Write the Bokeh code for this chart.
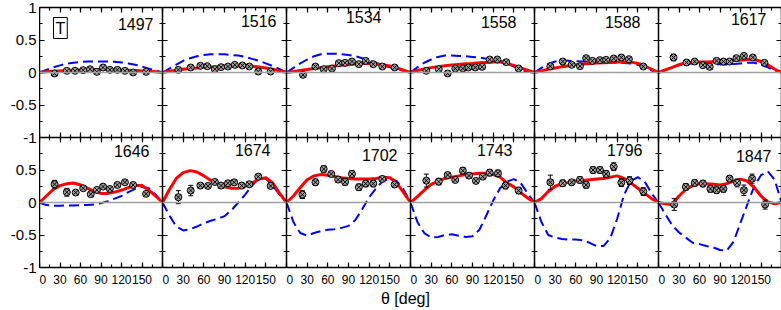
from bokeh.plotting import figure
from bokeh.layouts import gridplot, column, row
from bokeh.models import LinearAxis, FixedTicker, Span, Label, Range1d, ColumnDataSource, Div
from bokeh.embed import file_html
from bokeh.resources import INLINE

FONT = "Liberation Sans"

energies = [1497, 1516, 1534, 1558, 1588, 1617, 1646, 1674, 1702, 1743, 1796, 1847]

# model curves sampled every 10 deg
curve_theta = [0, 10, 20, 30, 40, 50, 60, 70, 80, 90, 100, 110, 120, 130, 140, 150, 160, 170, 180]

# ---- measured points (theta, T, error) ----
th_1497 = [22, 40, 52, 64, 74, 84, 93, 103, 114, 125, 137, 156]
T_1497 = [-0.015, 0.026, 0.026, 0.036, 0.05, 0.01, 0.077, 0.041, 0.041, 0.026, 0.0, 0.01]
dT_1497 = [0.015] * 12

th_1516 = [23, 41, 55, 65, 76, 85, 95, 105, 116, 126, 139, 157]
T_1516 = [0.041, 0.077, 0.103, 0.097, 0.051, 0.082, 0.092, 0.118, 0.108, 0.092, 0.015, 0.015]
dT_1516 = [0.015] * 12

th_1534 = [24, 42, 54, 66, 76, 85, 95, 105, 115, 126, 139, 157]
T_1534 = [-0.036, 0.092, 0.051, 0.062, 0.144, 0.149, 0.169, 0.128, 0.179, 0.128, 0.092, 0.077]
dT_1534 = [0.015] * 12

th_1558 = [23, 41, 54, 65, 76, 84, 94, 104, 115, 126, 139, 157]
T_1558 = [0.026, 0.051, -0.015, 0.062, 0.062, 0.077, 0.077, 0.087, 0.2, 0.2, 0.159, 0.062]
dT_1558 = [0.015] * 12

th_1588 = [23, 41, 54, 66, 75, 84, 95, 104, 115, 126, 137, 158]
T_1588 = [0.097, 0.169, 0.118, 0.097, 0.221, 0.179, 0.19, 0.195, 0.215, 0.231, 0.205, 0.092]
dT_1588 = [0.015, 0.035, 0.02, 0.02, 0.015, 0.015, 0.015, 0.015, 0.015, 0.015, 0.015, 0.015]

th_1617 = [22, 41, 53, 65, 75, 85, 95, 104, 114, 125, 138, 155]
T_1617 = [0.231, 0.154, 0.169, 0.113, 0.087, 0.179, 0.169, 0.169, 0.221, 0.256, 0.231, 0.149]
dT_1617 = [0.05, 0.04, 0.02, 0.02, 0.02, 0.02, 0.02, 0.02, 0.02, 0.02, 0.02, 0.02]

th_1646 = [22, 40, 53, 64, 75, 84, 93, 103, 114, 125, 137, 156]
T_1646 = [0.281, 0.158, 0.153, 0.219, 0.128, 0.194, 0.245, 0.209, 0.27, 0.311, 0.27, 0.133]
dT_1646 = [0.06, 0.06, 0.03, 0.03, 0.03, 0.03, 0.03, 0.03, 0.03, 0.03, 0.03, 0.03]

th_1674 = [23, 41, 55, 66, 76, 85, 95, 104, 115, 126, 139, 157]
T_1674 = [0.082, 0.184, 0.26, 0.255, 0.316, 0.26, 0.296, 0.311, 0.26, 0.281, 0.398, 0.255]
dT_1674 = [0.1, 0.08, 0.04, 0.04, 0.04, 0.04, 0.04, 0.04, 0.04, 0.04, 0.04, 0.04]

th_1702 = [23, 42, 54, 65, 75, 85, 95, 105, 115, 126, 139, 157]
T_1702 = [0.122, 0.311, 0.515, 0.439, 0.352, 0.316, 0.439, 0.235, 0.291, 0.291, 0.362, 0.276]
dT_1702 = [0.06, 0.05, 0.05, 0.04, 0.04, 0.05, 0.05, 0.05, 0.05, 0.05, 0.04, 0.04]

th_1743 = [23, 41, 54, 65, 76, 85, 95, 105, 115, 127, 138, 157]
T_1743 = [0.337, 0.321, 0.423, 0.347, 0.49, 0.413, 0.332, 0.398, 0.459, 0.449, 0.26, 0.184]
dT_1743 = [0.1, 0.05, 0.04, 0.04, 0.05, 0.04, 0.04, 0.04, 0.05, 0.05, 0.05, 0.05]

th_1796 = [23, 41, 54, 66, 75, 85, 95, 104, 115, 126, 138, 158]
T_1796 = [0.311, 0.296, 0.311, 0.347, 0.27, 0.5, 0.5, 0.439, 0.551, 0.306, 0.337, 0.168]
dT_1796 = [0.11, 0.05, 0.04, 0.05, 0.05, 0.05, 0.05, 0.05, 0.06, 0.06, 0.06, 0.06]

th_1847 = [23, 40, 53, 65, 76, 85, 95, 104, 115, 125, 137, 156]
T_1847 = [-0.031, 0.24, 0.301, 0.291, 0.209, 0.189, 0.209, 0.367, 0.301, 0.189, 0.367, -0.031]
dT_1847 = [0.09, 0.05, 0.05, 0.05, 0.05, 0.05, 0.05, 0.05, 0.06, 0.08, 0.07, 0.07]

# ---- model curves: red solid and blue dashed ----
red_1497 = [0, .01, .02, .025, .03, .035, .04, .04, .045, .045, .045, .045, .04, .035, .03, .025, .02, .01, 0]
blue_1497 = [0, .04, .08, .11, .135, .15, .16, .17, .17, .17, .17, .165, .155, .14, .12, .09, .06, .03, 0]

red_1516 = [0, .02, .035, .05, .06, .07, .08, .085, .09, .095, .1, .1, .1, .095, .085, .07, .05, .025, 0]
blue_1516 = [0, .06, .12, .18, .22, .25, .27, .28, .28, .28, .27, .26, .24, .21, .18, .14, .1, .05, 0]

red_1534 = [0, .015, .03, .045, .06, .075, .09, .1, .11, .12, .13, .14, .14, .13, .12, .1, .07, .035, 0]
blue_1534 = [0, .07, .14, .2, .25, .28, .29, .29, .28, .27, .25, .22, .18, .15, .11, .08, .05, .025, 0]

red_1558 = [0, .03, .055, .075, .09, .105, .115, .125, .135, .14, .15, .155, .16, .16, .14, .11, .07, .035, 0]
blue_1558 = [0, .08, .15, .2, .24, .26, .26, .255, .25, .24, .23, .21, .2, .18, .14, .09, .04, .01, 0]

red_1588 = [0, .025, .05, .07, .09, .105, .12, .13, .14, .145, .15, .155, .16, .16, .16, .14, .1, .05, 0]
blue_1588 = [0, .07, .13, .17, .185, .18, .175, .17, .165, .16, .16, .155, .15, .145, .14, .12, .08, .03, 0]

red_1617 = [0, .04, .08, .12, .15, .155, .16, .16, .165, .17, .175, .185, .19, .2, .2, .17, .12, .05, 0]
blue_1617 = [0, .04, .08, .11, .13, .14, .14, .135, .13, .125, .125, .13, .14, .15, .15, .12, .08, .03, 0]

red_1646 = [0, .1, .2, .26, .29, .3, .27, .22, .17, .14, .14, .16, .19, .23, .26, .26, .19, .1, 0]
blue_1646 = [0, -.04, -.05, -.05, -.045, -.045, -.04, -.04, -.03, -.01, .02, .06, .1, .16, .21, .24, .22, .12, 0]

red_1674 = [0, .2, .37, .46, .49, .47, .41, .34, .28, .24, .22, .22, .25, .3, .36, .38, .3, .14, 0]
blue_1674 = [0, -.2, -.37, -.43, -.41, -.37, -.32, -.28, -.25, -.21, -.12, 0, .12, .26, .37, .37, .26, .12, 0]

red_1702 = [0, .1, .23, .35, .41, .43, .42, .4, .38, .37, .36, .36, .36, .37, .39, .38, .3, .15, 0]
blue_1702 = [0, -.3, -.47, -.51, -.47, -.44, -.42, -.41, -.39, -.36, -.27, -.1, .08, .22, .33, .37, .33, .2, 0]

red_1743 = [0, .09, .19, .28, .33, .37, .39, .41, .43, .44, .45, .45, .43, .39, .3, .24, .15, .07, 0]
blue_1743 = [0, -.3, -.47, -.54, -.53, -.5, -.49, -.51, -.53, -.52, -.42, -.2, .03, .22, .32, .36, .3, .14, 0]

red_1796 = [0, .06, .17, .25, .29, .31, .33, .34, .35, .36, .37, .39, .41, .37, .3, .22, .14, .06, 0]
blue_1796 = [0, -.3, -.5, -.54, -.56, -.57, -.57, -.58, -.62, -.67, -.67, -.55, -.25, .12, .33, .39, .32, .14, 0]

red_1847 = [0, -.02, -.03, .1, .2, .26, .29, .29, .28, .27, .29, .33, .36, .33, .23, .1, .01, -.02, 0]
blue_1847 = [0, -.18, -.35, -.46, -.54, -.62, -.64, -.67, -.69, -.73, -.74, -.6, -.31, -.03, .25, .42, .48, .35, 0]

x_ticks = [0, 30, 60, 90, 120, 150, 180]
x_minor = [0, 15, 30, 45, 60, 75, 90, 105, 120, 135, 150, 165, 180]
y_ticks = [-1, -0.5, 0, 0.5, 1]
y_minor = [-1, -0.75, -0.5, -0.25, 0, 0.25, 0.5, 0.75, 1]
x_tick_labels = {0: "0", 30: "30", 60: "60", 90: "90", 120: "120", 150: "150", 180: ""}
# y tick labels of the two stacked rows, read on one shared label axis
# (upper row spans 1 .. -1, lower row spans -1 .. -3 on that axis)
row_label_ticks = [1, 0.5, 0, -0.5, -1, -1.5, -2, -2.5, -3]
row_label_texts = ["1", "0.5", "0", "-0.5", "-1", "0.5", "0", "-0.5", "-1"]
x_title = "θ [deg]"

panels = [
    (th_1497, T_1497, dT_1497, red_1497, blue_1497),
    (th_1516, T_1516, dT_1516, red_1516, blue_1516),
    (th_1534, T_1534, dT_1534, red_1534, blue_1534),
    (th_1558, T_1558, dT_1558, red_1558, blue_1558),
    (th_1588, T_1588, dT_1588, red_1588, blue_1588),
    (th_1617, T_1617, dT_1617, red_1617, blue_1617),
    (th_1646, T_1646, dT_1646, red_1646, blue_1646),
    (th_1674, T_1674, dT_1674, red_1674, blue_1674),
    (th_1702, T_1702, dT_1702, red_1702, blue_1702),
    (th_1743, T_1743, dT_1743, red_1743, blue_1743),
    (th_1796, T_1796, dT_1796, red_1796, blue_1796),
    (th_1847, T_1847, dT_1847, red_1847, blue_1847),
]

# layout (pixels)
frame_w = [123, 124, 124, 124, 124, 123]
frame_h = 130
top_pad = 7
bottom_pad = 40
title_dx = [9, 10, 29, 18, 18, 15, 13, 16, 13, 22, 16, 10]
title_dy = [10, 7, 3, 8, 8, 5, 7, 6, 11, 6, 6, 12]


def style_axis(ax, show_labels, is_x, overrides=None):
    ax.axis_line_color = "black"
    ax.axis_line_width = 1.5
    ax.major_tick_line_color = "black"
    ax.minor_tick_line_color = "black"
    ax.major_tick_line_width = 1.2
    ax.minor_tick_line_width = 1.2
    ax.major_tick_in = 5
    ax.major_tick_out = 0
    ax.minor_tick_in = 3
    ax.minor_tick_out = 0
    if is_x:
        ax.ticker = FixedTicker(ticks=x_ticks, minor_ticks=x_minor)
    else:
        ax.ticker = FixedTicker(ticks=y_ticks, minor_ticks=y_minor)
    if show_labels:
        ax.major_label_text_font = FONT
        ax.major_label_text_color = "black"
        ax.major_label_text_font_size = "12px"
        ax.major_label_standoff = 7
        ax.major_label_overrides = overrides
    else:
        ax.major_label_text_font_size = "0px"
        ax.major_label_standoff = 0


def spacer_axis(h, tick):
    # invisible axis that only reserves h pixels of border
    return LinearAxis(ticker=FixedTicker(ticks=[tick], minor_ticks=[]),
                      major_tick_out=h, major_tick_in=0, minor_tick_out=0, minor_tick_in=0,
                      major_tick_line_alpha=0, minor_tick_line_alpha=0, axis_line_alpha=0,
                      major_label_text_font_size="0px", major_label_standoff=0)


figs = []
for i, (th, T, dT, red, blue) in enumerate(panels):
    r, col = divmod(i, 6)
    p = figure(frame_width=frame_w[col], frame_height=frame_h,
               x_range=Range1d(0, 180), y_range=Range1d(-1, 1),
               output_backend="svg", toolbar_location=None,
               min_border=0, background_fill_color="white",
               border_fill_color="white")
    if r == 1:
        p.min_border_bottom = bottom_pad
    p.outline_line_color = None
    p.xgrid.visible = False
    p.ygrid.visible = False
    p.add_layout(LinearAxis(), "above")
    p.add_layout(LinearAxis(), "right")

    style_axis(p.below[0], r == 1, True, x_tick_labels)
    style_axis(p.above[0], False, True)
    style_axis(p.left[0], False, False)
    style_axis(p.right[0], False, False)
    if r == 0:
        p.add_layout(spacer_axis(top_pad, 90), "above")

    p.add_layout(Span(location=0, dimension="width", line_color="#a0a0a0", line_width=1.5))

    p.line(curve_theta, blue, line_color="#0000ff", line_width=2, line_dash="10 5")
    p.line(curve_theta, red, line_color="#ff0000", line_width=3)

    lo = [t - d for t, d in zip(T, dT)]
    hi = [t + d for t, d in zip(T, dT)]
    src = ColumnDataSource(dict(x=th, y=T, lo=lo, hi=hi))
    p.segment(x0="x", y0="lo", x1="x", y1="hi", source=src, line_color="black", line_width=1)
    p.scatter(x="x", y="lo", source=src, marker="dash", size=5, line_color="black", line_width=1)
    p.scatter(x="x", y="hi", source=src, marker="dash", size=5, line_color="black", line_width=1)
    p.scatter(x="x", y="y", source=src, marker="circle_x", size=7,
              fill_color="#a0a0a0", line_color="black", line_width=1)

    p.add_layout(Label(x=180, y=1, x_offset=-title_dx[i], y_offset=-title_dy[i],
                       text=str(energies[i]), text_align="right", text_baseline="top",
                       text_font=FONT, text_font_size="16px", text_color="black"))
    if i == 0:
        p.add_layout(Label(x=0, y=1, x_offset=14, y_offset=-10, text="T",
                           text_baseline="top", text_font=FONT, text_font_size="16px",
                           text_color="black", border_line_color="black",
                           border_line_width=1, background_fill_color="white",
                           padding=2))
    figs.append(p)

grid = gridplot([figs[:6], figs[6:]], toolbar_location=None)

# shared y tick-label strip for both rows (one axis spanning the two stacked frames)
lab = figure(frame_width=1, frame_height=2 * frame_h,
             x_range=Range1d(0, 1), y_range=Range1d(-3, 1),
             x_axis_location=None, output_backend="svg", toolbar_location=None,
             min_border=0, border_fill_color="white", background_fill_color="white")
lab.min_border_bottom = bottom_pad
lab.outline_line_color = None
lab.xgrid.visible = False
lab.ygrid.visible = False
lab.add_layout(spacer_axis(top_pad, 0.5), "above")
ya = lab.yaxis[0]
ya.ticker = FixedTicker(ticks=row_label_ticks, minor_ticks=[])
ya.major_label_overrides = {t: s for t, s in zip(row_label_ticks, row_label_texts)}
ya.axis_line_color = None
ya.major_tick_line_color = None
ya.minor_tick_line_color = None
ya.major_tick_in = 0
ya.major_tick_out = 0
ya.major_label_standoff = 2
ya.major_label_text_font = FONT
ya.major_label_text_font_size = "15px"
ya.major_label_text_color = "black"

xlabel = Div(text=x_title, width=54, height=16, margin=(-16, 0, 0, 374),
             styles={"font-family": FONT, "font-size": "16px", "white-space": "nowrap",
                     "line-height": "16px", "color": "black"})

layout = column(row(lab, grid), xlabel, margin=(0, 0, 0, 7))

open("out.html", "w").write(file_html(layout, INLINE))
